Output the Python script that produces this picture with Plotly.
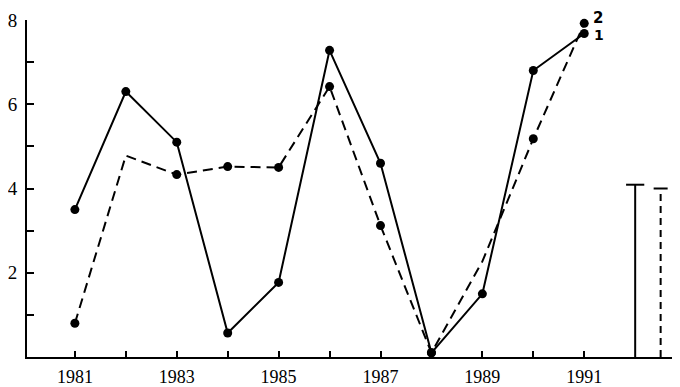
import plotly.graph_objects as go

years = [1981, 1982, 1983, 1984, 1985, 1986, 1987, 1988, 1989, 1990, 1991]
series1 = [3.5, 6.3, 5.1, 0.57, 1.77, 7.28, 4.6, 0.1, 1.5, 6.8, 7.68]
series2 = [0.8, 4.78, 4.33, 4.52, 4.5, 6.42, 3.12, 0.1, 2.27, 5.18, 7.92]
series2_marked = [True, False, True, True, True, True, True, True, False, True, True]
x_ticklabels = ["1981", "", "1983", "", "1985", "", "1987", "", "1989", "", "1991"]
y_tickvals = [1, 2, 3, 4, 5, 6, 7, 8]
y_ticklabels = ["", "2", "", "4", "", "6", "", "8"]
lsd_x = [1992.0, 1992.5]
lsd_values = [4.09, 4.0]
series_labels = ["1", "2"]

SERIF = "Liberation Serif, Times New Roman, DejaVu Serif, serif"

fig = go.Figure()

fig.add_trace(go.Scatter(
    x=years, y=series2, mode="lines",
    line=dict(color="black", width=2, dash="10px,6px"),
    cliponaxis=False, showlegend=False))
fig.add_trace(go.Scatter(
    x=[x for x, m in zip(years, series2_marked) if m],
    y=[y for y, m in zip(series2, series2_marked) if m],
    mode="markers",
    marker=dict(color="black", opacity=1, size=9),
    cliponaxis=False, showlegend=False))

fig.add_trace(go.Scatter(
    x=years, y=series1, mode="lines+markers",
    line=dict(color="black", width=2),
    marker=dict(color="black", opacity=1, size=9),
    cliponaxis=False, showlegend=False))

# LSD bars (solid, dashed)
for xv, yv, dash, cap in zip(lsd_x, lsd_values, ["solid", "7px,5px"], [13, 10]):
    fig.add_trace(go.Scatter(
        x=[xv, xv], y=[0, yv], mode="lines",
        line=dict(color="black", width=2, dash=dash),
        cliponaxis=False, showlegend=False))
    fig.add_trace(go.Scatter(
        x=[xv], y=[yv], mode="markers",
        marker=dict(symbol="line-ew", size=cap, opacity=1, line=dict(color="black", width=2)),
        cliponaxis=False, showlegend=False))

# series labels near the last points
fig.add_annotation(x=years[-1], y=series1[-1], text="<b>" + series_labels[0] + "</b>",
                   showarrow=False, xshift=15, yshift=-2,
                   font=dict(family="DejaVu Sans", size=14, color="black"))
fig.add_annotation(x=years[-1], y=series2[-1], text="<b>" + series_labels[1] + "</b>",
                   showarrow=False, xshift=14, yshift=5,
                   font=dict(family="DejaVu Sans", size=15, color="black"))

# the page has an 8px body margin, so the figure is sized/offset to compensate
fig.update_layout(
    width=672, height=379,
    margin=dict(l=18, r=0, t=12, b=28),
    paper_bgcolor="white", plot_bgcolor="white",
    font=dict(family=SERIF, size=18, color="black"),
    xaxis=dict(range=[1980.06, 1992.88], tickvals=years, ticktext=x_ticklabels,
               ticks="inside", ticklen=6, tickwidth=2, tickcolor="black",
               showline=True, linecolor="black", linewidth=2,
               showgrid=False, zeroline=False, ticklabelstandoff=2,
               tickfont=dict(family=SERIF, size=18)),
    yaxis=dict(range=[0, 8], tickvals=y_tickvals, ticktext=y_ticklabels,
               ticks="inside", ticklen=7, tickwidth=2, tickcolor="black",
               showline=True, linecolor="black", linewidth=2,
               showgrid=False, zeroline=False, ticklabelstandoff=4,
               tickfont=dict(family=SERIF, size=19)),
)

fig.write_html("out.html")
